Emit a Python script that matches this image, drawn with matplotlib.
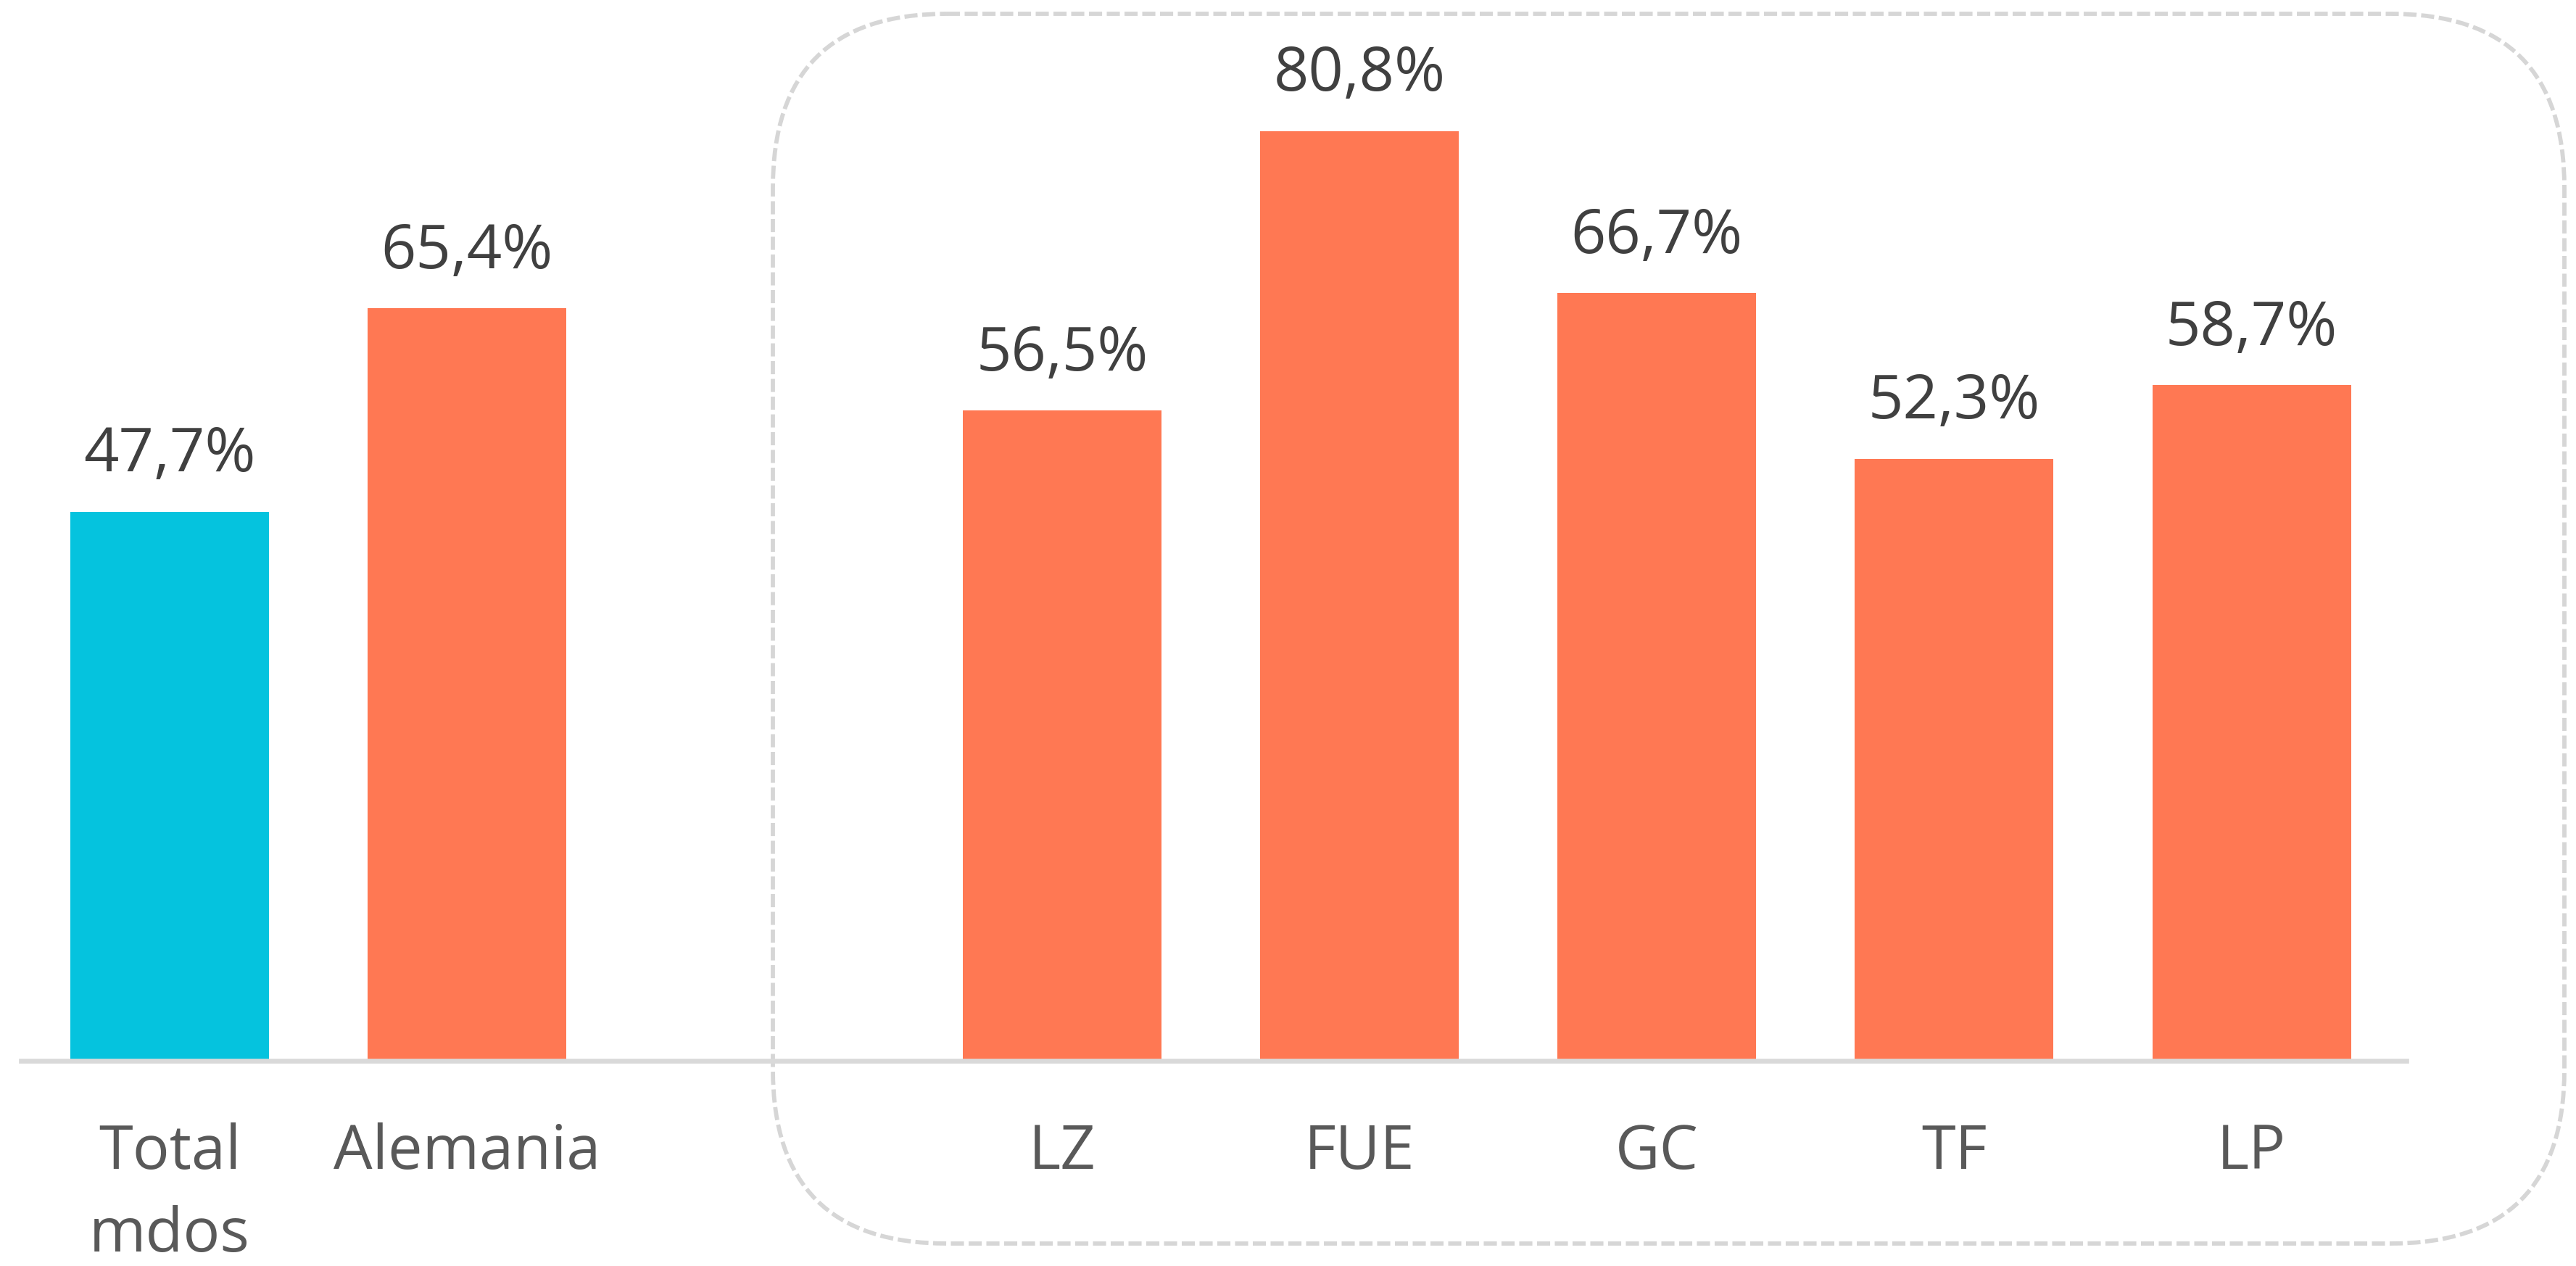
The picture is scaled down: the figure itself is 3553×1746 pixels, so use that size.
import matplotlib
matplotlib.use("Agg")
import matplotlib.pyplot as plt
from matplotlib.patches import FancyBboxPatch
import numpy as np

categories = ["Total\nmdos", "Alemania", "LZ", "FUE", "GC", "TF", "LP"]
values = [47.7, 65.4, 56.5, 80.8, 66.7, 52.3, 58.7]
bar_colors = ["#05C3DE", "#FF7853", "#FF7853", "#FF7853", "#FF7853", "#FF7853", "#FF7853"]

plt.rcParams['font.family'] = ['Open Sans', 'DejaVu Sans']

W, H = 3553, 1746
DPI = 100
fig = plt.figure(figsize=(W / DPI, H / DPI), dpi=DPI)
fig.patch.set_facecolor("white")

# positions: gap between the first two and the island group
x = np.array([0, 1, 3, 4, 5, 6, 7], dtype=float)

ax_left, ax_right = 29, 3319
ax_bottom_px = 1463  # from top
ax_top_px = 100
ax = fig.add_axes([ax_left / W, (H - ax_bottom_px) / H,
                   (ax_right - ax_left) / W, (ax_bottom_px - ax_top_px) / H])
ax.bar(x, values, width=0.668, color=bar_colors, zorder=2)
ax.set_xlim(-0.50, 7.52)
px_per_unit = 15.87
ax.set_ylim(0, (ax_bottom_px - ax_top_px) / px_per_unit)

for xi, v in zip(x, values):
    ax.annotate(f"{v:.1f}%".replace(".", ","), (xi, v), xytext=(0, 40),
                textcoords="offset points", ha="center", va="baseline",
                fontsize=61, color="#404040")

ax.set_xticks(x)
ax.set_xticklabels(categories, fontsize=61, color="#595959", linespacing=1.48)
ax.tick_params(axis="x", length=0, pad=61)
ax.set_yticks([])
for s in ["top", "right", "left"]:
    ax.spines[s].set_visible(False)
ax.spines["bottom"].set_color("#D9D9D9")
ax.spines["bottom"].set_linewidth(4.8)
ax.patch.set_alpha(0)

# dashed rounded frame around the island group (pixel-space overlay)
ov = fig.add_axes([0, 0, 1, 1], zorder=-1)
ov.set_xlim(0, W)
ov.set_ylim(H, 0)
ov.axis("off")
bx0, by0, bx1, by1 = 1066, 19, 3537, 1715
r = 240
box = FancyBboxPatch((bx0, by0), bx1 - bx0, by1 - by0,
                     boxstyle=f"round,pad=0,rounding_size={r}",
                     fill=False, edgecolor="#D6D6D6", linewidth=4.2,
                     linestyle=(0, (3.1, 1.1)))
ov.add_patch(box)

fig.savefig("out.png", dpi=DPI, facecolor="white")
